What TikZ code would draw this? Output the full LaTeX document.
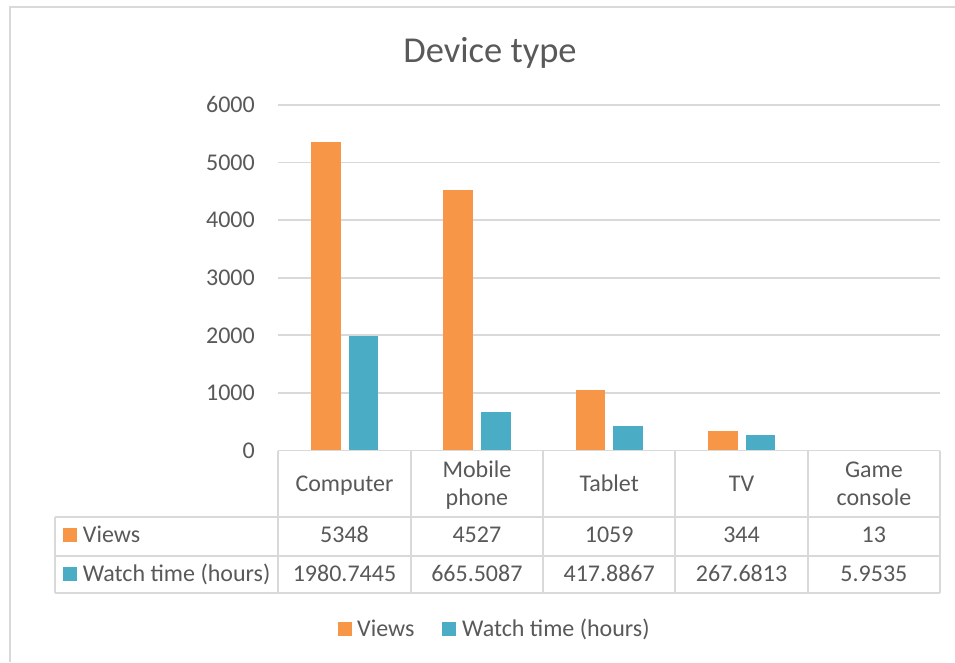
\documentclass[tikz,border=0pt]{standalone}
\usepackage{fontspec}
\setmainfont{Carlito}
\definecolor{txt}{HTML}{595959}
\definecolor{gridc}{HTML}{D9D9D9}
\definecolor{views}{HTML}{F79646}
\definecolor{watch}{HTML}{4BACC6}
\begin{document}
\begin{tikzpicture}[x=1pt,y=-1pt,
  lbl/.style={text=txt, font=\fontsize{24}{29}\selectfont, inner sep=0pt},
  titlelbl/.style={text=txt, font=\fontsize{36.5}{44}\selectfont, inner sep=0pt},
  gridln/.style={draw=gridc, line width=1.8pt},
  tabln/.style={draw=gridc, line width=1.8pt},
  vbar/.style={fill=views},
  wbar/.style={fill=watch},
  vkey/.style={fill=views},
  wkey/.style={fill=watch}]
\useasboundingbox (0,0) rectangle (955,662);
\fill[white] (0,0) rectangle (955,662);
% chart border
\draw[draw=gridc, line width=2pt] (9.5,662) -- (9.5,6.5) -- (955,6.5);
% title
\node[titlelbl, anchor=base] (title) at (490,62.3) {Device type};
% gridlines and axis labels
\foreach \k/\t in {1/1000,2/2000,3/3000,4/4000,5/5000,6/6000} {
  \draw[gridln] (278.3,{450.5-57.6*\k}) -- (940,{450.5-57.6*\k});
  \node[lbl, anchor=east] (ylab\k) at (255,{450.5-57.6*\k}) {\t};
}
\node[lbl, anchor=east] (ylab0) at (255,450.5) {0};
% bars
\foreach \i/\v/\w in {0/5348/1980.7445, 1/4527/665.5087, 2/1059/417.8867, 3/344/267.6813, 4/13/5.9535} {
  \pgfmathsetmacro\L{278.3+132.35*\i}
  \pgfmathsetmacro\hv{450.5-0.0576*\v}
  \pgfmathsetmacro\hw{450.5-0.0576*\w}
  \path[vbar] (\L+32.7,450.5) rectangle (\L+62.4,\hv);
  \path[wbar] (\L+70.4,450.5) rectangle (\L+100.1,\hw);
}
% data table lines
\draw[tabln] (278.3,450.5) -- (940,450.5);
\draw[tabln] (55,517) -- (940,517);
\draw[tabln] (55,556) -- (940,556);
\draw[tabln] (55,593) -- (940,593);
\draw[tabln] (55,517) -- (55,593);
\foreach \k in {0,...,5} {
  \draw[tabln] ({278.3+132.35*\k},450.5) -- ({278.3+132.35*\k},593);
}
% header texts
\node[lbl, anchor=base] (hdr0) at (344.5,491.7) {Computer};
\node[lbl, anchor=base] (hdr1a) at (476.9,477) {Mobile};
\node[lbl, anchor=base] (hdr1b) at (476.9,505) {phone};
\node[lbl, anchor=base] (hdr2) at (609.2,491.7) {Tablet};
\node[lbl, anchor=base] (hdr3) at (741.5,491.7) {TV};
\node[lbl, anchor=base] (hdr4a) at (873.9,477) {Game};
\node[lbl, anchor=base] (hdr4b) at (873.9,505) {console};
% row labels
\fill[vkey] (62.7,528) rectangle (76.7,542);
\node[lbl, anchor=base west] (rowv) at (82.7,542) {Views};
\fill[wkey] (62.7,567) rectangle (76.7,581);
\node[lbl, anchor=base west] (roww) at (82.7,581) {Watch time (hours)};
% values
\foreach \i/\v/\w in {0/5348/1980.7445, 1/4527/665.5087, 2/1059/417.8867, 3/344/267.6813, 4/13/5.9535} {
  \node[lbl, anchor=base] (val\i) at ({344.5+132.35*\i},542.5) {\v};
  \node[lbl, anchor=base] (wat\i) at ({344.5+132.35*\i},581.5) {\w};
}
% legend
\fill[vkey] (338,622.3) rectangle (352,635.7);
\node[lbl, anchor=base west] (legv) at (357,636) {Views};
\fill[wkey] (442,622.3) rectangle (456,635.7);
\node[lbl, anchor=base west] (legw) at (462,636) {Watch time (hours)};
\end{tikzpicture}
\end{document}
